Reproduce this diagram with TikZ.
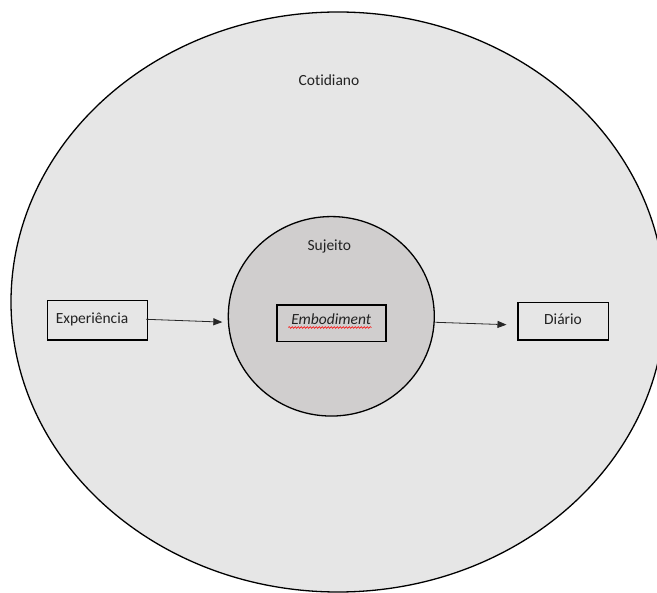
\documentclass[tikz,border=0pt]{standalone}
\usepackage{fontspec}
\setmainfont{Carlito}[Ligatures={NoCommon}]
\usetikzlibrary{shapes.geometric,arrows.meta,decorations.pathmorphing}
\definecolor{outerfill}{HTML}{E6E6E6}
\definecolor{innerfill}{HTML}{D0CECE}
\definecolor{txt}{HTML}{222222}
\begin{document}
\begin{tikzpicture}[x=1pt,y=-1pt,
  lbl/.style={font=\fontsize{15.5}{18}\selectfont, text=txt, inner sep=0pt},
  boxnode/.style={draw=black, line width=1.6pt, font=\fontsize{15.5}{18}\selectfont, text=txt, inner sep=0pt, text height=11pt, text depth=3.6pt},
  arr/.style={line width=0.8pt, draw=black!85, -{Triangle[length=9pt,width=7pt]}},
  spell/.style={draw=red, line width=0.5pt, decorate, decoration={snake, segment length=3pt, amplitude=0.9pt}}]
\useasboundingbox (0,0) rectangle (657,593);
\clip (0,0) rectangle (657,593);
\fill[white] (0,0) rectangle (657,593);
\node[ellipse, draw=black, line width=1.3pt, fill=outerfill, minimum width=654pt, minimum height=580pt, inner sep=0pt] (cot) at (338,302) {};
\node[lbl] (cottxt) at (329,80) {Cotidiano};
\node[ellipse, draw=black, line width=1.3pt, fill=innerfill, minimum width=206pt, minimum height=199.5pt, inner sep=0pt] (suj) at (331.3,316.3) {};
\node[lbl] (sujtxt) at (329.3,246.5) {Sujeito};
\node[boxnode, minimum width=109pt, minimum height=36.4pt, text depth=8pt] (emb) at (331.2,323.5) {\itshape Embodiment};
\draw[spell] (288.3,327.5) -- (371.7,327.5);
\node[boxnode, minimum height=39.3pt, text width=83pt, align=left, inner xsep=8.5pt] (exp) at (97.3,320.3) {Experiência};
\node[boxnode, minimum width=90.6pt, minimum height=37.7pt] (dia) at (563,321.2) {Diário};
\draw[arr] ([xshift=-2pt,yshift=1pt]exp.east) -- ([xshift=-5.3pt,yshift=-5.8pt]suj.west);
\draw[arr] ([xshift=0.5pt,yshift=-6pt]suj.east) -- ([xshift=-10.4pt,yshift=-3.5pt]dia.west);
\end{tikzpicture}
\end{document}
